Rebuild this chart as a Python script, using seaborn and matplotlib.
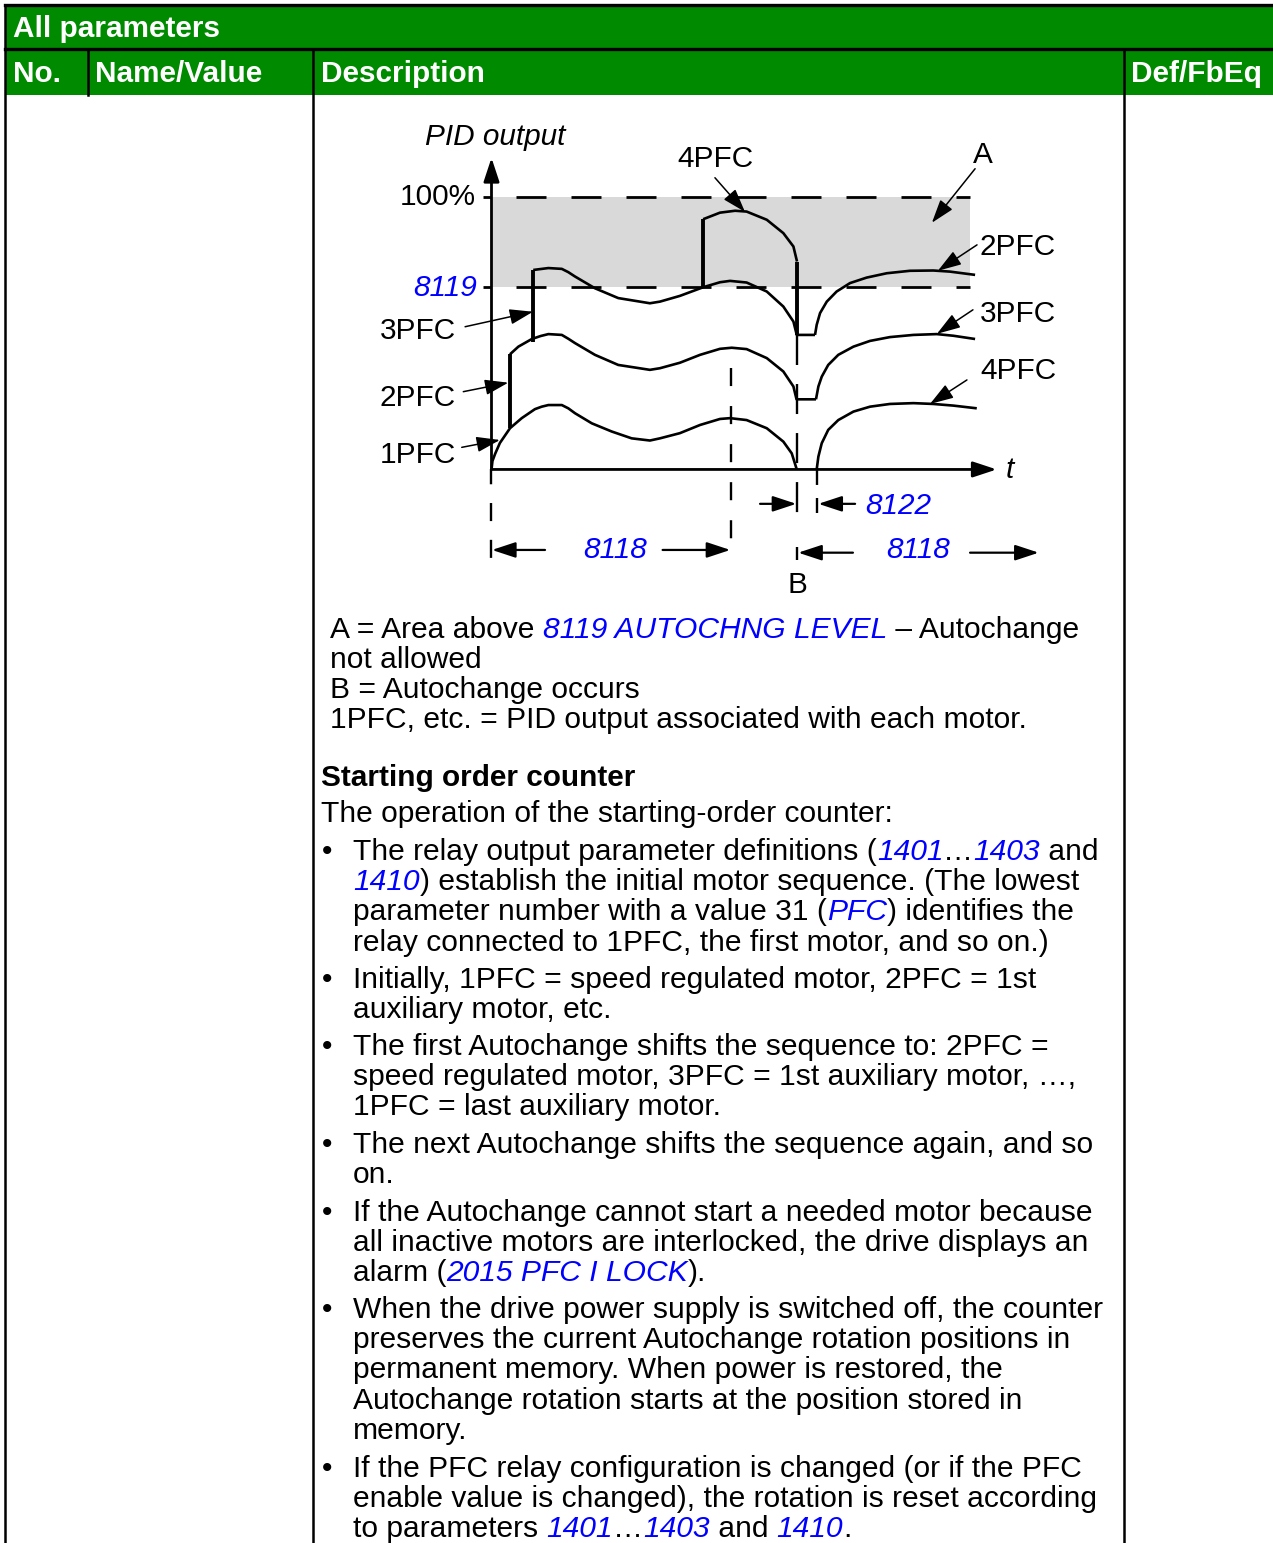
import matplotlib
matplotlib.use("Agg")
import matplotlib.pyplot as plt
from matplotlib.patches import Rectangle
import numpy as np
import pandas as pd
import seaborn as sns

sns.set_theme(style="white")
plt.rcParams["font.family"] = ["Liberation Sans", "DejaVu Sans"]
plt.rcParams["lines.scale_dashes"] = False
plt.rcParams["lines.solid_capstyle"] = "butt"
plt.rcParams["lines.solid_joinstyle"] = "round"

# ---------------- data: time t (s), PID output (%) ----------------
PCT_100 = 100.0
AUTOCHNG_LEVEL = 67.0          # 8119
T_8118 = 99.8                  # autochange interval end
T_B = 127.3                    # autochange occurs
T_8122 = 135.5                 # end of interlock delay

# lane 1: 1PFC before autochange
pfc1_t = [0.0, 0.4, 1.5, 3.5, 7.7, 12.6, 18.1, 20.9, 23.7, 29.3, 32.0, 34.8, 41.8, 50.1, 58.4,
          66.0, 70.2, 78.5, 86.9, 95.2, 99.4, 106.3, 114.7, 121.6, 125.1, 127.2]
pfc1_p = [0.0, 3.1, 5.7, 9.7, 15.1, 18.8, 22.1, 23.0, 23.6, 23.6, 22.4, 20.6, 16.9, 13.9, 11.4,
          10.6, 11.4, 13.3, 16.3, 18.5, 18.8, 18.1, 15.1, 10.2, 5.9, 0.0]
# lane 2: 2PFC before autochange
pfc2_t = [7.7, 11.2, 16.8, 20.5, 23.7, 29.3, 32.0, 34.8, 43.1, 52.8, 66.0, 70.2, 78.5, 86.9,
          95.2, 100.1, 106.3, 114.7, 121.6, 125.8, 127.1, 135.2]
pfc2_p = [42.2, 45.0, 47.8, 48.9, 49.6, 49.3, 47.9, 46.3, 42.0, 38.3, 36.5, 37.1, 39.1, 42.0,
          44.2, 44.6, 44.1, 40.8, 35.9, 30.4, 25.7, 25.7]
# lane 3: 3PFC before autochange
pfc3_t = [17.4, 23.7, 29.3, 32.0, 34.8, 43.1, 52.8, 66.0, 70.2, 78.5, 88.3, 95.2, 99.4,
          106.3, 114.7, 121.6, 125.8, 127.2, 134.8]
pfc3_p = [73.1, 73.8, 73.5, 72.3, 70.7, 66.4, 62.8, 60.9, 61.5, 63.6, 66.8, 68.6, 69.1,
          68.5, 65.2, 59.7, 54.2, 49.3, 49.3]
# lane 4: 4PFC before autochange
pfc4_t = [88.2, 95.2, 101.5, 106.3, 114.7, 121.6, 125.8, 127.3]
pfc4_p = [91.7, 94.1, 94.8, 94.5, 91.5, 86.6, 81.7, 76.2]
# after autochange
after2_t = [134.8, 135.5, 136.9, 139.7, 143.8, 149.4, 156.3, 164.7, 174.4, 184.1, 191.0, 201.5]
after2_p = [49.3, 53.0, 57.3, 61.5, 65.2, 68.3, 70.3, 71.9, 72.8, 72.9, 72.5, 71.3]
after3_t = [135.2, 136.2, 137.6, 140.3, 144.5, 150.8, 157.7, 166.0, 175.8, 185.5, 192.4, 201.5]
after3_p = [25.7, 30.4, 34.0, 38.3, 42.0, 45.0, 47.1, 48.5, 49.3, 49.6, 49.0, 47.8]
after4_t = [135.5, 136.2, 137.6, 140.3, 144.5, 150.8, 157.7, 166.0, 175.8, 184.1, 192.4, 202.2]
after4_p = [0.0, 4.7, 9.6, 14.5, 18.1, 21.2, 23.0, 24.0, 24.3, 24.0, 23.4, 22.4]
# motor start / stop steps
step_t = [7.7, 17.4, 88.2, 127.3]
step_lo = [15.1, 46.6, 66.8, 49.3]
step_hi = [42.2, 73.1, 91.7, 76.2]

# ---------------- figure ----------------
W, H = 1273, 1543
FS = 21.65
BLUE = "#0000ff"
GREEN = "#008a00"
fig = plt.figure(figsize=(W / 100, H / 100), dpi=100)
bg = fig.add_axes([0, 0, 1, 1])
bg.set_xlim(0, W)
bg.set_ylim(H, 0)
bg.axis("off")

# table header and grid
bg.add_patch(Rectangle((5, 5), W - 5, 90, color=GREEN, lw=0, zorder=0))
for (x0, x1, y0, y1, lw) in [(5, W, 5, 5, 2.4), (5, W, 49, 49, 2.4),
                             (5, 5, 5, H, 1.8), (88, 88, 49, 95, 1.8),
                             (313, 313, 49, H, 1.8), (1124, 1124, 49, H, 1.8)]:
    bg.plot([x0, x1], [y0, y1], color="black", lw=lw, solid_capstyle="projecting")
hdr = dict(color="white", fontsize=21.4, fontweight="bold", va="baseline")
bg.text(13, 37, "All parameters", **hdr)
bg.text(13, 82, "No.", **hdr)
bg.text(95, 82, "Name/Value", **hdr)
bg.text(321, 82, "Description", **hdr)
bg.text(1131, 82, "Def/FbEq", **hdr)

renderer = fig.canvas.get_renderer()
STY = {"n": dict(color="black"),
       "l": dict(color=BLUE, fontstyle="italic"),
       "b": dict(color="black", fontweight="bold")}


def twidth(s, kw, fs):
    t1 = bg.text(0, 0, "|" + s + "|", fontsize=fs, **kw)
    w1 = t1.get_window_extent(renderer).width
    t1.remove()
    t2 = bg.text(0, 0, "||", fontsize=fs, **kw)
    w2 = t2.get_window_extent(renderer).width
    t2.remove()
    return w1 - w2


def rich(x, y, parts, fs=FS):
    for s, st in parts:
        kw = STY[st]
        bg.text(x, y, s, fontsize=fs, va="baseline", ha="left", **kw)
        x += twidth(s, kw, fs)


plain = [
    (330, 638, [("A = Area above ", "n"), ("8119 AUTOCHNG LEVEL", "l"), (" – Autochange", "n")]),
    (330, 668, [("not allowed", "n")]),
    (330, 698, [("B = Autochange occurs", "n")]),
    (330, 728, [("1PFC, etc. = PID output associated with each motor.", "n")]),
    (321, 786, [("Starting order counter", "b")]),
    (321, 822, [("The operation of the starting-order counter:", "n")]),
]
for x, y, parts in plain:
    rich(x, y, parts, fs=21.4 if parts[0][1] == "b" else FS)

bullets = [
    (860, [[("The relay output parameter definitions (", "n"), ("1401", "l"), ("…", "n"),
            ("1403", "l"), (" and", "n")],
           [("1410", "l"), (") establish the initial motor sequence. (The lowest", "n")],
           [("parameter number with a value 31 (", "n"), ("PFC", "l"), (") identifies the", "n")],
           [("relay connected to 1PFC, the first motor, and so on.)", "n")]]),
    (988, [[("Initially, 1PFC = speed regulated motor, 2PFC = 1st", "n")],
           [("auxiliary motor, etc.", "n")]]),
    (1055, [[("The first Autochange shifts the sequence to: 2PFC =", "n")],
            [("speed regulated motor, 3PFC = 1st auxiliary motor, …,", "n")],
            [("1PFC = last auxiliary motor.", "n")]]),
    (1153, [[("The next Autochange shifts the sequence again, and so", "n")],
            [("on.", "n")]]),
    (1221, [[("If the Autochange cannot start a needed motor because", "n")],
            [("all inactive motors are interlocked, the drive displays an", "n")],
            [("alarm (", "n"), ("2015 PFC I LOCK", "l"), (").", "n")]]),
    (1318, [[("When the drive power supply is switched off, the counter", "n")],
            [("preserves the current Autochange rotation positions in", "n")],
            [("permanent memory. When power is restored, the", "n")],
            [("Autochange rotation starts at the position stored in", "n")],
            [("memory.", "n")]]),
    (1477, [[("If the PFC relay configuration is changed (or if the PFC", "n")],
            [("enable value is changed), the rotation is reset according", "n")],
            [("to parameters ", "n"), ("1401", "l"), ("…", "n"), ("1403", "l"), (" and ", "n"),
             ("1410", "l"), (".", "n")]]),
]
for y0, lines in bullets:
    bg.text(322, y0, "•", fontsize=FS, va="baseline", ha="left", color="black")
    for i, parts in enumerate(lines):
        rich(353, y0 + 30.2 * i, parts)

# ---------------- diagram ----------------
dax = fig.add_axes([330 / W, 1 - 600 / H, 780 / W, 490 / H])
dax.patch.set_alpha(0)

T_END = 199.4
dax.fill_between([0, T_END], AUTOCHNG_LEVEL, PCT_100, color="#d9d9d9", lw=0, zorder=1)
for lvl in (PCT_100, AUTOCHNG_LEVEL):
    dax.plot([0, T_END], [lvl, lvl], color="black", lw=2.0, ls=(21.6, (21.6, 18.0)), zorder=2)
    dax.plot([-3.5, 0], [lvl, lvl], color="black", lw=2.0, zorder=2)

# curves
segs = [("pfc1", pfc1_t, pfc1_p), ("pfc2", pfc2_t, pfc2_p), ("pfc3", pfc3_t, pfc3_p),
        ("pfc4", pfc4_t, pfc4_p), ("after2", after2_t, after2_p),
        ("after3", after3_t, after3_p), ("after4", after4_t, after4_p)]
rows = []
for name, ts, ps in segs:
    for i, (t, p) in enumerate(zip(ts, ps)):
        rows.append({"seg": name, "i": i, "t": t, "pct": p})
curves = pd.DataFrame(rows)
sns.lineplot(data=curves, x="t", y="pct", units="seg", estimator=None, sort=False,
             color="black", linewidth=1.9, ax=dax, legend=False, zorder=4)
steps = pd.DataFrame({"seg": list(range(len(step_t))) * 2,
                      "t": step_t + step_t, "pct": step_lo + step_hi})
sns.lineplot(data=steps, x="t", y="pct", units="seg", estimator=None, sort=False,
             color="black", linewidth=2.8, ax=dax, legend=False, zorder=4)
dax.set_xlim(-67.29, 257.71)
dax.set_ylim(-47.84, 131.72)
dax.axis("off")

# axes with arrows
ax_arrow = dict(arrowstyle="-|>,head_length=1.0,head_width=0.33", mutation_scale=14.4,
                lw=2.0, color="black", shrinkA=0, shrinkB=0)
dax.annotate("", xy=(0, 114.2), xytext=(0, 0), arrowprops=ax_arrow, zorder=5)
dax.annotate("", xy=(210.5, 0), xytext=(0, 0), arrowprops=ax_arrow, zorder=5)

# dashed guide lines
dax.plot([0, 0], [0, -34.3], color="black", lw=1.7, ls=(2.0, (13.0, 13.5)), zorder=3)
dax.plot([T_8118, T_8118], [37.0, -32.3], color="black", lw=1.7, ls=(0, (13.0, 14.4)), zorder=3)
dax.plot([T_B, T_B], [49.3, -19.3], color="black", lw=1.7, ls=(0, (21.6, 13.7)), zorder=3)
dax.plot([T_B, T_B], [-28.6, -33.3], color="black", lw=1.7, zorder=3)
dax.plot([T_8122, T_8122], [0.5, -16.1], color="black", lw=1.7, ls=(0, (12.2, 9.4)), zorder=3)

dim_arrow = dict(arrowstyle="-|>,head_length=1.0,head_width=0.33", mutation_scale=14.4,
                 lw=1.6, color="black", shrinkA=0, shrinkB=0)
for start, tip in [((111.9, -12.6), (127.0, -12.6)), ((151.5, -12.6), (136.2, -12.6)),
                   ((22.3, -29.5), (0.2, -29.5)), ((71.3, -29.5), (99.5, -29.5)),
                   ((150.6, -30.5), (127.8, -30.5)), ((199.4, -30.5), (228.0, -30.5))]:
    dax.annotate("", xy=tip, xytext=start, arrowprops=dim_arrow, zorder=5)

lab_arrow = dict(arrowstyle="-|>,head_length=1.0,head_width=0.33", mutation_scale=14.4,
                 lw=1.1, color="black", shrinkA=0, shrinkB=0)
for start, tip in [((-11.0, 52.3), (17.3, 57.8)), ((-11.75, 28.5), (7.0, 31.8)),
                   ((-12.4, 8.1), (3.5, 10.8)), ((93.1, 106.9), (105.6, 94.4)),
                   ((201.5, 110.2), (183.5, 90.4)), ((202.3, 82.3), (186.0, 72.8)),
                   ((200.6, 58.5), (185.6, 49.7)), ((198.1, 32.8), (182.7, 24.0))]:
    dax.annotate("", xy=tip, xytext=start, arrowprops=lab_arrow, zorder=5)

tk = dict(fontsize=21.4, va="baseline", color="black")
lk = dict(fontsize=21.4, va="baseline", color=BLUE, fontstyle="italic")
dax.text(1.5, 119.0, "PID output", ha="center", fontstyle="italic", **tk)
dax.text(-6.5, 97.0, "100%", ha="right", **tk)
dax.text(-6.0, 63.6, "8119", ha="right", **lk)
dax.text(-14.8, 47.7, "3PFC", ha="right", **tk)
dax.text(-14.8, 23.3, "2PFC", ha="right", **tk)
dax.text(-14.8, 2.5, "1PFC", ha="right", **tk)
dax.text(93.5, 110.8, "4PFC", ha="center", **tk)
dax.text(204.8, 112.2, "A", ha="center", **tk)
dax.text(203.5, 78.6, "2PFC", ha="left", **tk)
dax.text(203.5, 54.0, "3PFC", ha="left", **tk)
dax.text(203.5, 33.1, "4PFC", ha="left", **tk)
dax.text(214.4, -3.2, "t", ha="left", fontstyle="italic", **tk)
dax.text(155.6, -16.4, "8122", ha="left", **lk)
dax.text(51.3, -32.3, "8118", ha="center", **lk)
dax.text(177.7, -32.3, "8118", ha="center", **lk)
dax.text(127.5, -45.2, "B", ha="center", **tk)

fig.savefig("out.png", dpi=100, facecolor="white")
